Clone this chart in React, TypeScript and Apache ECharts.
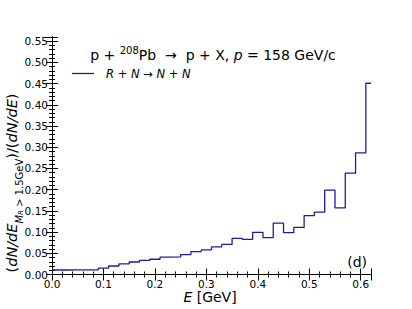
import React, { useEffect, useRef } from 'react';
import * as echarts from 'echarts';

const binCenters = [0.00, 0.02, 0.04, 0.06, 0.08, 0.10, 0.12, 0.14, 0.16, 0.18, 0.20, 0.22, 0.24, 0.26, 0.28, 0.30, 0.32, 0.34, 0.36, 0.38, 0.40, 0.42, 0.44, 0.46, 0.48, 0.50, 0.52, 0.54, 0.56, 0.58, 0.60, 0.62];
const ratioValues = [0.0106, 0.0106, 0.0108, 0.0110, 0.0112, 0.0150, 0.0200, 0.0250, 0.0295, 0.0335, 0.0360, 0.0410, 0.0415, 0.0470, 0.0540, 0.0580, 0.0650, 0.0710, 0.0850, 0.0830, 0.0995, 0.0870, 0.1210, 0.0986, 0.1110, 0.1390, 0.1470, 0.1990, 0.1570, 0.2390, 0.2870, 0.4510];
const binWidth = 0.02;
const xMin = 0;
const xMax = 0.62;
const yMin = 0;
const yMax = 0.56;
const xMajor = 0.1;
const xMinor = 0.02;
const yMajor = 0.05;
const yMinor = 0.01;

const FONT = 'DejaVu Sans';
const LINE = '#1c1c9c';

export default function App() {
  const ref = useRef<HTMLDivElement>(null);
  useEffect(() => {
    if (!ref.current) return;
    const chart = echarts.init(ref.current, null, { renderer: 'svg' });
    const stepData: number[][] = binCenters.map((c, i) => [Math.max(xMin, c - binWidth / 2), ratioValues[i]]);
    stepData.push([xMax, ratioValues[ratioValues.length - 1]]);

    const isMult = (v: number, m: number) => Math.abs(v / m - Math.round(v / m)) < 1e-6;
    const lbl = { fontFamily: FONT, fontSize: 10.5, color: '#000' };
    const axLine = { show: true, lineStyle: { color: '#000', width: 1 } };
    const mkX = (pos: string, interval: number, len: number, labels: boolean) => ({
      type: 'value', position: pos, min: xMin, max: xMax, interval,
      axisLine: axLine,
      axisTick: { show: true, inside: true, length: len, lineStyle: { color: '#000', width: 1 } },
      axisLabel: labels ? { show: true, margin: 4, ...lbl, formatter: (v: number) => (isMult(v, xMajor) ? v.toFixed(1) : '') } : { show: false },
      splitLine: { show: false },
    });
    const mkY = (pos: string, interval: number, len: number, labels: boolean) => ({
      type: 'value', position: pos, min: yMin, max: yMax, interval,
      axisLine: axLine,
      axisTick: { show: true, inside: true, length: len, lineStyle: { color: '#000', width: 1 } },
      axisLabel: labels ? { show: true, margin: 4, ...lbl, formatter: (v: number) => (isMult(v, yMajor) ? v.toFixed(2) : '') } : { show: false },
      splitLine: { show: false },
    });

    chart.setOption({
      animation: false,
      backgroundColor: '#fff',
      grid: { left: 52, right: 41, top: 37, bottom: 34.5, containLabel: false },
      xAxis: [
        mkX('bottom', xMajor, 6, true),
        mkX('bottom', xMinor, 3, false),
        mkX('top', xMajor, 6, false),
        mkX('top', xMinor, 3, false),
      ],
      yAxis: [
        mkY('left', yMajor, 6, true),
        mkY('left', yMinor, 3, false),
        mkY('right', yMajor, 6, false),
        mkY('right', yMinor, 3, false),
      ],
      series: [{
        type: 'line', xAxisIndex: 0, yAxisIndex: 0, step: 'end', data: stepData,
        showSymbol: false, symbol: 'none', lineStyle: { color: LINE, width: 1.3 }, clip: true,
      }],
      graphic: [
        {
          type: 'text', x: 213, y: 53.5,
          style: {
            text: '{n|p + }{sup|208}{n|Pb  →  p + X, }{i|p}{n| = 158 GeV/c}',
            align: 'center', verticalAlign: 'middle', fill: '#000',
            rich: {
              n: { fontFamily: FONT, fontSize: 14, lineHeight: 16, verticalAlign: 'bottom' },
              i: { fontFamily: FONT, fontSize: 14, fontStyle: 'italic', lineHeight: 16, verticalAlign: 'bottom' },
              sup: { fontFamily: FONT, fontSize: 10, lineHeight: 10, verticalAlign: 'top' },
            },
          },
        },
        { type: 'line', shape: { x1: 72, y1: 73.5, x2: 94, y2: 73.5 }, style: { stroke: LINE, lineWidth: 1.3 } },
        {
          type: 'text', x: 106, y: 73.5,
          style: {
            text: '{i|R}{n| + }{i|N}{n| → }{i|N}{n| + }{i|N}',
            align: 'left', verticalAlign: 'middle', fill: '#000',
            rich: {
              n: { fontFamily: FONT, fontSize: 11.5 },
              i: { fontFamily: FONT, fontSize: 11.5, fontStyle: 'italic' },
            },
          },
        },
        {
          type: 'text', x: 367, y: 262,
          style: { text: '(d)', align: 'right', verticalAlign: 'middle', fill: '#000', fontFamily: FONT, fontSize: 14 },
        },
        {
          type: 'text', x: 210, y: 297,
          style: {
            text: '{i|E}{n| [GeV]}', align: 'center', verticalAlign: 'middle', fill: '#000',
            rich: {
              n: { fontFamily: FONT, fontSize: 14 },
              i: { fontFamily: FONT, fontSize: 14, fontStyle: 'italic' },
            },
          },
        },
        {
          type: 'text', x: 14, y: 183, rotation: Math.PI / 2,
          style: {
            text: '{n|(}{i|dN/dE}{si|M}{ss|R}{s| > 1.5GeV}{n|)/(}{i|dN/dE}{n|)}',
            align: 'center', verticalAlign: 'middle', fill: '#000',
            rich: {
              n: { fontFamily: FONT, fontSize: 14.5, lineHeight: 20, verticalAlign: 'top' },
              i: { fontFamily: FONT, fontSize: 14.5, fontStyle: 'italic', lineHeight: 20, verticalAlign: 'top' },
              si: { fontFamily: FONT, fontSize: 10, fontStyle: 'italic', lineHeight: 10, verticalAlign: 'bottom' },
              ss: { fontFamily: FONT, fontSize: 7, fontStyle: 'italic', lineHeight: 7, verticalAlign: 'bottom' },
              s: { fontFamily: FONT, fontSize: 10, lineHeight: 10, verticalAlign: 'bottom' },
            },
          },
        },
      ],
    });
    return () => chart.dispose();
  }, []);
  return <div ref={ref} style={{ position: 'fixed', left: 0, top: 0, width: 412, height: 309 }} />;
}
